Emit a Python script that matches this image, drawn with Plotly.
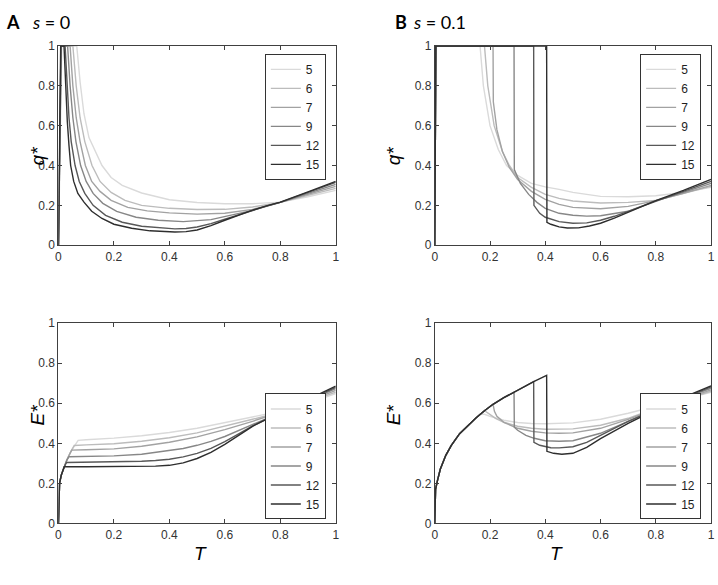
import plotly.graph_objects as go

# ---------------- data ----------------
series_labels = ["5", "6", "7", "9", "12", "15"]
series_colors = ["#dadada", "#bcbcbc", "#a2a2a2", "#878787", "#585858", "#2e2e2e"]

# Panel A, q* (s = 0)
qA_T_5 = [0, 0.012, 0.066, 0.078, 0.092, 0.11, 0.157, 0.19, 0.23, 0.3, 0.4, 0.5, 0.6, 0.7, 0.8, 0.9, 1.0]
qA_5 = [0, 1, 1, 0.82, 0.66, 0.54, 0.40, 0.34, 0.30, 0.262, 0.228, 0.214, 0.208, 0.208, 0.216, 0.243, 0.275]
qA_T_6 = [0, 0.01, 0.052, 0.064, 0.078, 0.095, 0.121, 0.15, 0.19, 0.24, 0.3, 0.4, 0.5, 0.6, 0.7, 0.8, 0.9, 1.0]
qA_6 = [0, 1, 1, 0.80, 0.64, 0.52, 0.40, 0.32, 0.265, 0.225, 0.2, 0.185, 0.179, 0.18, 0.192, 0.215, 0.25, 0.285]
qA_T_7 = [0, 0.01, 0.042, 0.052, 0.064, 0.078, 0.097, 0.12, 0.15, 0.19, 0.25, 0.32, 0.4, 0.5, 0.6, 0.7, 0.8, 0.9, 1.0]
qA_7 = [0, 1, 1, 0.80, 0.64, 0.52, 0.40, 0.32, 0.27, 0.225, 0.19, 0.172, 0.162, 0.156, 0.16, 0.18, 0.215, 0.255, 0.295]
qA_T_9 = [0, 0.01, 0.033, 0.042, 0.052, 0.063, 0.08, 0.1, 0.125, 0.16, 0.21, 0.28, 0.36, 0.45, 0.55, 0.65, 0.7, 0.75, 0.8, 0.9, 1.0]
qA_9 = [0, 1, 1, 0.80, 0.64, 0.52, 0.40, 0.32, 0.26, 0.21, 0.17, 0.14, 0.125, 0.118, 0.128, 0.157, 0.175, 0.195, 0.215, 0.26, 0.305]
qA_T_12 = [0, 0.009, 0.024, 0.031, 0.038, 0.046, 0.06, 0.075, 0.095, 0.125, 0.17, 0.23, 0.3, 0.42, 0.46, 0.5, 0.55, 0.6, 0.65, 0.7, 0.75, 0.8, 0.9, 1.0]
qA_12 = [0, 1, 1, 0.80, 0.64, 0.52, 0.40, 0.32, 0.26, 0.20, 0.15, 0.115, 0.095, 0.082, 0.084, 0.091, 0.108, 0.13, 0.152, 0.175, 0.196, 0.215, 0.265, 0.315]
qA_T_15 = [0, 0.008, 0.02, 0.026, 0.032, 0.038, 0.044, 0.055, 0.07, 0.092, 0.12, 0.157, 0.2, 0.264, 0.33, 0.42, 0.46, 0.5, 0.55, 0.6, 0.65, 0.7, 0.75, 0.8, 0.9, 1.0]
qA_15 = [0, 1, 1, 0.80, 0.62, 0.50, 0.40, 0.32, 0.26, 0.216, 0.17, 0.134, 0.105, 0.085, 0.072, 0.066, 0.068, 0.076, 0.098, 0.125, 0.151, 0.176, 0.197, 0.216, 0.268, 0.32]

# Panel B, q* (s = 0.1)
qB_T_5 = [0, 0.004, 0.164, 0.176, 0.2, 0.23, 0.26, 0.3, 0.35, 0.4, 0.45, 0.5, 0.6, 0.7, 0.8, 0.9, 1.0]
qB_5 = [0, 1, 1, 0.80, 0.60, 0.48, 0.40, 0.35, 0.31, 0.293, 0.28, 0.265, 0.245, 0.243, 0.248, 0.265, 0.29]
qB_T_6 = [0, 0.004, 0.18, 0.192, 0.215, 0.245, 0.27, 0.3, 0.35, 0.4, 0.45, 0.5, 0.6, 0.7, 0.8, 0.9, 1.0]
qB_6 = [0, 1, 1, 0.80, 0.60, 0.47, 0.40, 0.34, 0.29, 0.255, 0.235, 0.222, 0.212, 0.215, 0.224, 0.26, 0.295]
qB_T_7 = [0, 0.004, 0.211, 0.212, 0.225, 0.245, 0.27, 0.3, 0.35, 0.4, 0.45, 0.5, 0.6, 0.7, 0.8, 0.9, 1.0]
qB_7 = [0, 1, 1, 0.72, 0.58, 0.47, 0.39, 0.33, 0.27, 0.23, 0.205, 0.19, 0.183, 0.195, 0.224, 0.26, 0.30]
qB_T_9 = [0, 0.004, 0.287, 0.288, 0.31, 0.34, 0.37, 0.4, 0.45, 0.5, 0.55, 0.6, 0.7, 0.8, 0.9, 1.0]
qB_9 = [0, 1, 1, 0.38, 0.31, 0.255, 0.215, 0.185, 0.16, 0.15, 0.146, 0.148, 0.17, 0.224, 0.265, 0.31]
qB_T_12 = [0, 0.004, 0.358, 0.359, 0.38, 0.4, 0.45, 0.5, 0.55, 0.6, 0.65, 0.7, 0.8, 0.9, 1.0]
qB_12 = [0, 1, 1, 0.20, 0.16, 0.14, 0.118, 0.11, 0.112, 0.125, 0.145, 0.17, 0.224, 0.27, 0.32]
qB_T_15 = [0, 0.004, 0.405, 0.406, 0.42, 0.45, 0.48, 0.52, 0.56, 0.6, 0.65, 0.7, 0.8, 0.9, 1.0]
qB_15 = [0, 1, 1, 0.115, 0.105, 0.092, 0.086, 0.087, 0.096, 0.11, 0.136, 0.165, 0.224, 0.275, 0.33]

# Panel A, E* (s = 0)
eA_T_5 = [0, 0.004, 0.01, 0.02, 0.03, 0.045, 0.06, 0.071, 0.1, 0.2, 0.3, 0.4, 0.5, 0.6, 0.7, 0.8, 0.9, 1.0]
eA_5 = [0, 0.2, 0.24, 0.28, 0.315, 0.36, 0.395, 0.415, 0.418, 0.426, 0.438, 0.454, 0.475, 0.503, 0.53, 0.56, 0.6, 0.649]
eA_T_6 = [0, 0.004, 0.01, 0.02, 0.03, 0.045, 0.057, 0.1, 0.2, 0.3, 0.4, 0.5, 0.6, 0.7, 0.8, 0.9, 1.0]
eA_6 = [0, 0.2, 0.24, 0.28, 0.315, 0.36, 0.389, 0.392, 0.398, 0.41, 0.428, 0.452, 0.485, 0.52, 0.556, 0.605, 0.656]
eA_T_7 = [0, 0.004, 0.01, 0.02, 0.03, 0.04, 0.048, 0.1, 0.2, 0.3, 0.4, 0.5, 0.6, 0.7, 0.8, 0.9, 1.0]
eA_7 = [0, 0.2, 0.24, 0.28, 0.315, 0.345, 0.366, 0.368, 0.372, 0.385, 0.405, 0.432, 0.468, 0.51, 0.555, 0.61, 0.665]
eA_T_9 = [0, 0.004, 0.01, 0.02, 0.03, 0.038, 0.1, 0.2, 0.3, 0.4, 0.45, 0.5, 0.55, 0.6, 0.65, 0.7, 0.75, 0.8, 0.9, 1.0]
eA_9 = [0, 0.2, 0.24, 0.28, 0.315, 0.333, 0.334, 0.337, 0.345, 0.362, 0.374, 0.39, 0.41, 0.434, 0.464, 0.495, 0.525, 0.553, 0.613, 0.673]
eA_T_12 = [0, 0.004, 0.01, 0.02, 0.029, 0.1, 0.2, 0.3, 0.35, 0.4, 0.45, 0.5, 0.55, 0.6, 0.65, 0.7, 0.75, 0.8, 0.9, 1.0]
eA_12 = [0, 0.2, 0.24, 0.28, 0.304, 0.305, 0.306, 0.31, 0.314, 0.32, 0.332, 0.35, 0.375, 0.408, 0.447, 0.487, 0.521, 0.553, 0.618, 0.68]
eA_T_15 = [0, 0.004, 0.01, 0.015, 0.021, 0.1, 0.2, 0.3, 0.35, 0.4, 0.45, 0.5, 0.55, 0.6, 0.65, 0.7, 0.75, 0.8, 0.9, 1.0]
eA_15 = [0, 0.2, 0.24, 0.265, 0.283, 0.283, 0.283, 0.284, 0.286, 0.29, 0.302, 0.324, 0.355, 0.395, 0.44, 0.485, 0.52, 0.553, 0.62, 0.686]

# Panel B, E* (s = 0.1)
eB_T_5 = [0, 0.003, 0.01, 0.02, 0.04, 0.06, 0.09, 0.12, 0.15, 0.165, 0.18, 0.2, 0.25, 0.3, 0.35, 0.4, 0.5, 0.6, 0.7, 0.8, 0.9, 1.0]
eB_5 = [0, 0.17, 0.215, 0.27, 0.34, 0.39, 0.448, 0.49, 0.528, 0.546, 0.545, 0.535, 0.515, 0.504, 0.499, 0.498, 0.502, 0.52, 0.55, 0.585, 0.62, 0.655]
eB_T_6 = [0, 0.003, 0.01, 0.02, 0.04, 0.06, 0.09, 0.12, 0.15, 0.18, 0.195, 0.22, 0.25, 0.3, 0.35, 0.4, 0.5, 0.6, 0.7, 0.8, 0.9, 1.0]
eB_6 = [0, 0.17, 0.215, 0.27, 0.34, 0.39, 0.448, 0.49, 0.528, 0.563, 0.55, 0.525, 0.505, 0.485, 0.475, 0.47, 0.472, 0.49, 0.525, 0.575, 0.617, 0.66]
eB_T_7 = [0, 0.003, 0.01, 0.02, 0.04, 0.06, 0.09, 0.12, 0.15, 0.18, 0.211, 0.216, 0.225, 0.25, 0.3, 0.35, 0.4, 0.45, 0.5, 0.6, 0.7, 0.8, 0.9, 1.0]
eB_7 = [0, 0.17, 0.215, 0.27, 0.34, 0.39, 0.448, 0.49, 0.528, 0.563, 0.595, 0.56, 0.535, 0.505, 0.475, 0.46, 0.452, 0.45, 0.452, 0.475, 0.52, 0.572, 0.62, 0.667]
eB_T_9 = [0, 0.003, 0.01, 0.02, 0.04, 0.06, 0.09, 0.12, 0.15, 0.18, 0.211, 0.25, 0.287, 0.288, 0.3, 0.33, 0.36, 0.4, 0.45, 0.5, 0.6, 0.7, 0.8, 0.9, 1.0]
eB_9 = [0, 0.17, 0.215, 0.27, 0.34, 0.39, 0.448, 0.49, 0.528, 0.563, 0.595, 0.628, 0.655, 0.48, 0.465, 0.44, 0.425, 0.413, 0.41, 0.413, 0.45, 0.51, 0.57, 0.625, 0.675]
eB_T_12 = [0, 0.003, 0.01, 0.02, 0.04, 0.06, 0.09, 0.12, 0.15, 0.18, 0.211, 0.25, 0.287, 0.32, 0.358, 0.359, 0.38, 0.42, 0.45, 0.5, 0.55, 0.6, 0.7, 0.8, 0.9, 1.0]
eB_12 = [0, 0.17, 0.215, 0.27, 0.34, 0.39, 0.448, 0.49, 0.528, 0.563, 0.595, 0.628, 0.655, 0.683, 0.708, 0.405, 0.39, 0.378, 0.377, 0.383, 0.405, 0.44, 0.51, 0.57, 0.628, 0.682]
eB_T_15 = [0, 0.003, 0.01, 0.02, 0.04, 0.06, 0.09, 0.12, 0.15, 0.18, 0.211, 0.25, 0.287, 0.32, 0.358, 0.405, 0.406, 0.43, 0.46, 0.5, 0.55, 0.6, 0.65, 0.7, 0.8, 0.9, 1.0]
eB_15 = [0, 0.17, 0.215, 0.27, 0.34, 0.39, 0.448, 0.49, 0.528, 0.563, 0.595, 0.628, 0.655, 0.683, 0.708, 0.74, 0.36, 0.35, 0.345, 0.35, 0.38, 0.423, 0.462, 0.5, 0.568, 0.63, 0.687]

axis_ticks = [0, 0.2, 0.4, 0.6, 0.8, 1]
axis_ticktext = ["0", "0.2", "0.4", "0.6", "0.8", "1"]

panels = [
    ("x", "y", "legend", list(zip([qA_T_5, qA_T_6, qA_T_7, qA_T_9, qA_T_12, qA_T_15],
                                  [qA_5, qA_6, qA_7, qA_9, qA_12, qA_15]))),
    ("x2", "y2", "legend2", list(zip([qB_T_5, qB_T_6, qB_T_7, qB_T_9, qB_T_12, qB_T_15],
                                     [qB_5, qB_6, qB_7, qB_9, qB_12, qB_15]))),
    ("x3", "y3", "legend3", list(zip([eA_T_5, eA_T_6, eA_T_7, eA_T_9, eA_T_12, eA_T_15],
                                     [eA_5, eA_6, eA_7, eA_9, eA_12, eA_15]))),
    ("x4", "y4", "legend4", list(zip([eB_T_5, eB_T_6, eB_T_7, eB_T_9, eB_T_12, eB_T_15],
                                     [eB_5, eB_6, eB_7, eB_9, eB_12, eB_15]))),
]

W, H = 718, 585

fig = go.Figure()
for xa, ya, lg, series in panels:
    for (tt, vv), lab, col in zip(series, series_labels, series_colors):
        fig.add_trace(go.Scatter(
            x=tt, y=vv, mode="lines", name=lab, xaxis=xa, yaxis=ya, legend=lg,
            line=dict(color=col, width=1.4), hoverinfo="skip"))

def px_x(p):
    return p / W

def px_y(p):
    return 1 - p / H

tick_font = dict(family="Liberation Sans, Arial, sans-serif", size=12, color="#333333")

def axis_style(domain, anchor):
    return dict(domain=domain, anchor=anchor, range=[0, 1], tickvals=axis_ticks,
                ticktext=axis_ticktext, ticks="inside", ticklen=4, tickcolor="#404040",
                showline=True, linecolor="#404040", linewidth=1, mirror="ticks",
                showgrid=False, zeroline=False, tickfont=tick_font, fixedrange=True)

xl = [px_x(56), px_x(336)]
xr = [px_x(436), px_x(715)]
yt = [px_y(244), px_y(40)]
yb = [px_y(529), px_y(324)]

legend_common = dict(bgcolor="white", bordercolor="#333333", borderwidth=1,
                     font=dict(family="Liberation Sans, Arial, sans-serif", size=12, color="#1e1e1e"),
                     itemwidth=30, tracegroupgap=0)

fig.update_layout(
    width=W, height=H, margin=dict(l=0, r=0, t=0, b=0),
    plot_bgcolor="white", paper_bgcolor="white",
    xaxis=axis_style(xl, "y"), yaxis=axis_style(yt, "x"),
    xaxis2=axis_style(xr, "y2"), yaxis2=axis_style(yt, "x2"),
    xaxis3=axis_style(xl, "y3"), yaxis3=axis_style(yb, "x3"),
    xaxis4=axis_style(xr, "y4"), yaxis4=axis_style(yb, "x4"),
    legend=dict(x=px_x(326), xanchor="right", y=px_y(48), yanchor="top", **legend_common),
    legend2=dict(x=px_x(705), xanchor="right", y=px_y(48), yanchor="top", **legend_common),
    legend3=dict(x=px_x(326), xanchor="right", y=px_y(525), yanchor="bottom", **legend_common),
    legend4=dict(x=px_x(705), xanchor="right", y=px_y(525), yanchor="bottom", **legend_common),
    showlegend=True,
)

title_font = dict(family="Lato, Open Sans, sans-serif", size=18, color="black")
label_font = dict(family="Liberation Sans, Arial, sans-serif", size=19, color="black")

annotations = [
    dict(text="<b>A</b>", x=px_x(1), y=px_y(15), xanchor="left", yanchor="middle", font=title_font),
    dict(text="<i>s</i> = 0", x=px_x(27), y=px_y(15), xanchor="left", yanchor="middle", font=title_font),
    dict(text="<b>B</b>", x=px_x(394), y=px_y(15), xanchor="left", yanchor="middle", font=title_font),
    dict(text="<i>s</i> = 0.1", x=px_x(412), y=px_y(15), xanchor="left", yanchor="middle", font=title_font),
    dict(text="<i>q*</i>", x=px_x(22), y=px_y(141), textangle=-90, font=label_font),
    dict(text="<i>q*</i>", x=px_x(394), y=px_y(141), textangle=-90, font=label_font),
    dict(text="<i>E*</i>", x=px_x(22), y=px_y(431), textangle=-90, font=label_font),
    dict(text="<i>E*</i>", x=px_x(394), y=px_y(431), textangle=-90, font=label_font),
    dict(text="<i>T</i>", x=px_x(191), y=px_y(573), font=label_font),
    dict(text="<i>T</i>", x=px_x(568), y=px_y(573), font=label_font),
]
for a in annotations:
    a.update(xref="paper", yref="paper", showarrow=False)
fig.update_layout(annotations=annotations)

fig.write_html("out.html", config={"displayModeBar": False},
               post_script="document.body.style.margin='0';document.body.style.overflow='hidden';")
